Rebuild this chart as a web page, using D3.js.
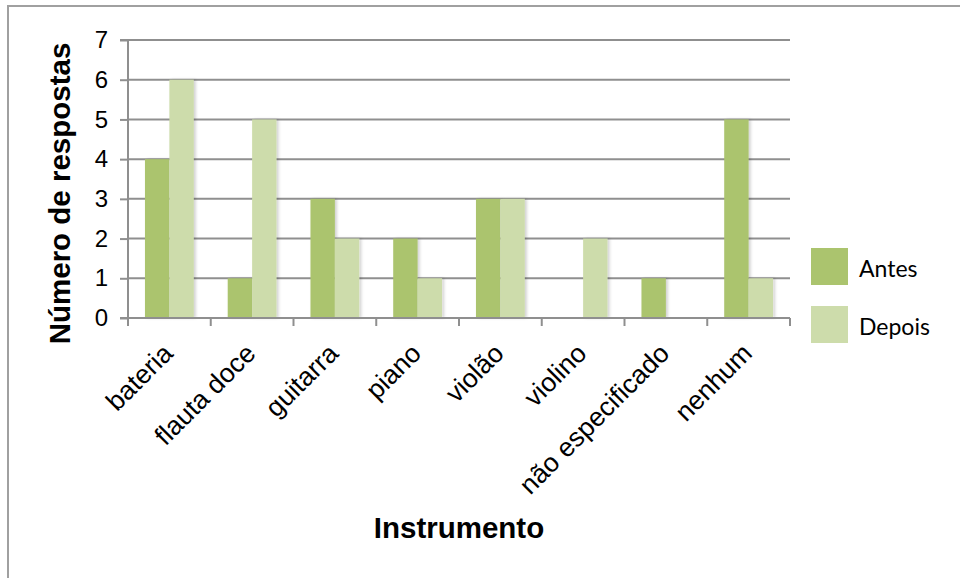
<!DOCTYPE html>
<html><head><meta charset="utf-8">
<script src="https://cdn.jsdelivr.net/npm/d3@7"></script>
<style>body{margin:0;background:#fff}svg{display:block}.ar{font-family:Arial,"Liberation Sans",sans-serif}</style>
</head><body>
<script>
const categories = ["bateria","flauta doce","guitarra","piano","violão","violino","não especificado","nenhum"];
const antes  = [4,1,3,2,3,0,1,5];
const depois = [6,5,2,1,3,2,0,1];
const seriesNames = ["Antes","Depois"];
const seriesColors = ["#abc46e","#cddcab"];
const yTicks = [0,1,2,3,4,5,6,7];

const W=960,H=578;
const svg=d3.select("body").append("svg").attr("width",W).attr("height",H);
const defs=svg.append("defs");
const f=defs.append("filter").attr("id","sh").attr("x","-20%").attr("y","-5%").attr("width","150%").attr("height","110%");
f.append("feDropShadow").attr("dx",2).attr("dy",0).attr("stdDeviation",1.5).attr("flood-color","#000").attr("flood-opacity",0.18);

svg.append("rect").attr("x",8).attr("y",6).attr("width",980).attr("height",600)
  .attr("fill","none").attr("stroke","#a0a0a0").attr("stroke-width",2);

const L=128,R=790,T=40,B=318;
const x=d3.scaleBand().domain(categories).range([L,R]).paddingInner(0.41).paddingOuter(0.205);
const xs=d3.scaleBand().domain(seriesNames).range([0,x.bandwidth()]);
const y=d3.scaleLinear().domain([0,7]).range([B,T]);
const grid="#8f8f8f";

svg.append("g").selectAll("line").data(yTicks.filter(d=>d>0)).join("line")
  .attr("x1",L).attr("x2",R).attr("y1",d=>y(d)).attr("y2",d=>y(d))
  .attr("stroke",grid).attr("stroke-width",2);

const data=categories.map((c,i)=>({c,vals:[antes[i],depois[i]]}));
const gb=svg.append("g");
data.forEach(d=>{
  d.vals.forEach((v,j)=>{
    if(v<=0) return;
    gb.append("rect").attr("x",x(d.c)+xs(seriesNames[j])).attr("width",xs.bandwidth())
      .attr("y",y(v)).attr("height",B-y(v)).attr("fill",seriesColors[j]).attr("filter","url(#sh)");
  });
});

const ya=d3.axisLeft(y).tickValues(yTicks).tickSize(8).tickPadding(12).tickFormat(d3.format("d"));
const gy=svg.append("g").attr("transform",`translate(${L},0)`).call(ya);
gy.attr("font-family",null).attr("font-size",null);
gy.select(".domain").attr("stroke",grid).attr("stroke-width",2).attr("d",`M-8,${T}H0V${B}`);
gy.selectAll(".tick line").attr("stroke",grid).attr("stroke-width",2);
gy.selectAll(".tick text").attr("class","ar").attr("font-size",24).attr("fill","#000");

const bounds=categories.map(c=>x(c)-x.step()*x.paddingInner()/2);
bounds.push(R);
svg.append("line").attr("x1",L-8).attr("x2",R).attr("y1",B).attr("y2",B).attr("stroke",grid).attr("stroke-width",2);
svg.append("g").selectAll("line").data(bounds).join("line")
  .attr("x1",d=>d).attr("x2",d=>d).attr("y1",B).attr("y2",B+8).attr("stroke",grid).attr("stroke-width",2);
svg.append("g").selectAll("text").data(categories).join("text").attr("class","ar")
  .attr("transform",d=>`translate(${x(d)+x.bandwidth()/2+5},${B+37}) rotate(-45)`)
  .attr("text-anchor","end").attr("font-size",26.5).attr("fill","#000")
  .text(d=>d);

svg.append("text").attr("class","ar").attr("x",(L+R)/2).attr("y",538).attr("text-anchor","middle")
  .attr("font-weight","bold").attr("font-size",29.5).text("Instrumento");
svg.append("text").attr("class","ar").attr("transform",`translate(70,${(42+345)/2}) rotate(-90)`).attr("text-anchor","middle")
  .attr("font-weight","bold").attr("font-size",29.5).text("Número de respostas");

const lg=svg.append("g").selectAll("g").data(seriesNames).join("g")
  .attr("transform",(d,i)=>`translate(811,${248+i*58})`);
lg.append("rect").attr("width",37).attr("height",37).attr("fill",(d,i)=>seriesColors[i]);
lg.append("text").attr("x",48).attr("y",29).attr("font-family","Lato, 'Open Sans', sans-serif").attr("font-size",23).attr("fill","#000").text(d=>d);
</script>
</body></html>
